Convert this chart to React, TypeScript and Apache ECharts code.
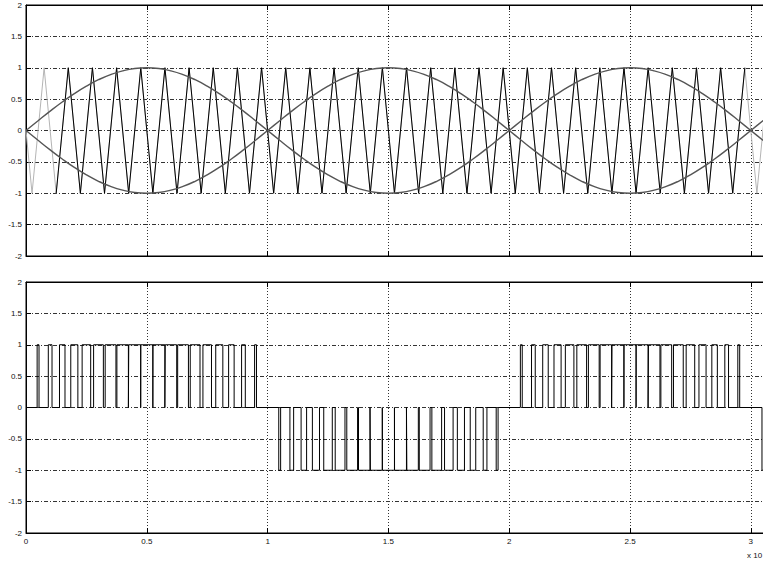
import React, { useEffect, useRef } from "react";
import * as echarts from "echarts";

// Triangular carrier: vertex times and levels
const carrierT = [
  0, 0.025, 0.075, 0.125, 0.175, 0.225, 0.275, 0.325, 0.375, 0.425, 0.475,
  0.525, 0.575, 0.625, 0.675, 0.725, 0.775, 0.825, 0.875, 0.925, 0.975,
  1.025, 1.075, 1.125, 1.175, 1.225, 1.275, 1.325, 1.375, 1.425, 1.475,
  1.525, 1.575, 1.625, 1.675, 1.725, 1.775, 1.825, 1.875, 1.925, 1.975,
  2.025, 2.075, 2.125, 2.175, 2.225, 2.275, 2.325, 2.375, 2.425, 2.475,
  2.525, 2.575, 2.625, 2.675, 2.725, 2.775, 2.825, 2.875, 2.925, 2.975,
  3.025, 3.075,
];
const carrierV = [
  0, -1, 1, -1, 1, -1, 1, -1, 1, -1, 1, -1, 1, -1, 1, -1, 1, -1, 1, -1, 1,
  -1, 1, -1, 1, -1, 1, -1, 1, -1, 1, -1, 1, -1, 1, -1, 1, -1, 1, -1, 1,
  -1, 1, -1, 1, -1, 1, -1, 1, -1, 1, -1, 1, -1, 1, -1, 1, -1, 1, -1, 1,
  -1, 1,
];
// span of the carrier drawn in black (the rest is light grey)
const carrierDarkFrom = 0.125;
const carrierDarkTo = 2.975;

// Reference sine waves (sampled every 0.05)
const sineT = [
  0, 0.05, 0.1, 0.15, 0.2, 0.25, 0.3, 0.35, 0.4, 0.45, 0.5, 0.55, 0.6, 0.65,
  0.7, 0.75, 0.8, 0.85, 0.9, 0.95, 1, 1.05, 1.1, 1.15, 1.2, 1.25, 1.3, 1.35,
  1.4, 1.45, 1.5, 1.55, 1.6, 1.65, 1.7, 1.75, 1.8, 1.85, 1.9, 1.95, 2, 2.05,
  2.1, 2.15, 2.2, 2.25, 2.3, 2.35, 2.4, 2.45, 2.5, 2.55, 2.6, 2.65, 2.7,
  2.75, 2.8, 2.85, 2.9, 2.95, 3, 3.05, 3.1,
];
const sineA = [
  0, 0.156, 0.309, 0.454, 0.588, 0.707, 0.809, 0.891, 0.951, 0.988, 1,
  0.988, 0.951, 0.891, 0.809, 0.707, 0.588, 0.454, 0.309, 0.156, 0,
  -0.156, -0.309, -0.454, -0.588, -0.707, -0.809, -0.891, -0.951, -0.988, -1,
  -0.988, -0.951, -0.891, -0.809, -0.707, -0.588, -0.454, -0.309, -0.156, 0,
  0.156, 0.309, 0.454, 0.588, 0.707, 0.809, 0.891, 0.951, 0.988, 1,
  0.988, 0.951, 0.891, 0.809, 0.707, 0.588, 0.454, 0.309, 0.156, 0,
  -0.156, -0.309,
];
const sineB = [
  0, -0.156, -0.309, -0.454, -0.588, -0.707, -0.809, -0.891, -0.951, -0.988, -1,
  -0.988, -0.951, -0.891, -0.809, -0.707, -0.588, -0.454, -0.309, -0.156, 0,
  0.156, 0.309, 0.454, 0.588, 0.707, 0.809, 0.891, 0.951, 0.988, 1,
  0.988, 0.951, 0.891, 0.809, 0.707, 0.588, 0.454, 0.309, 0.156, 0,
  -0.156, -0.309, -0.454, -0.588, -0.707, -0.809, -0.891, -0.951, -0.988, -1,
  -0.988, -0.951, -0.891, -0.809, -0.707, -0.588, -0.454, -0.309, -0.156, 0,
  0.156, 0.309,
];

// Unipolar PWM output: switch-on / switch-off instants and pulse level
const pulseOn = [
  0.0461, 0.0923, 0.1386, 0.1853, 0.2323, 0.2798, 0.3277, 0.3762, 0.4253, 0.475,
  0.5253, 0.5762, 0.6277, 0.6798, 0.7323, 0.7853, 0.8386, 0.8923, 0.9461,
  1.0461, 1.0923, 1.1386, 1.1853, 1.2323, 1.2798, 1.3277, 1.3762, 1.4253, 1.475,
  1.5253, 1.5762, 1.6277, 1.6798, 1.7323, 1.7853, 1.8386, 1.8923, 1.9461,
  2.0461, 2.0923, 2.1386, 2.1853, 2.2323, 2.2798, 2.3277, 2.3762, 2.4253, 2.475,
  2.5253, 2.5762, 2.6277, 2.6798, 2.7323, 2.7853, 2.8386, 2.8923, 2.9461,
  3.0461,
];
const pulseOff = [
  0.0539, 0.1077, 0.1614, 0.2147, 0.2677, 0.3202, 0.3723, 0.4238, 0.4747, 0.525,
  0.5747, 0.6238, 0.6723, 0.7202, 0.7677, 0.8147, 0.8614, 0.9077, 0.9539,
  1.0539, 1.1077, 1.1614, 1.2147, 1.2677, 1.3202, 1.3723, 1.4238, 1.4747, 1.525,
  1.5747, 1.6238, 1.6723, 1.7202, 1.7677, 1.8147, 1.8614, 1.9077, 1.9539,
  2.0539, 2.1077, 2.1614, 2.2147, 2.2677, 2.3202, 2.3723, 2.4238, 2.4747, 2.525,
  2.5747, 2.6238, 2.6723, 2.7202, 2.7677, 2.8147, 2.8614, 2.9077, 2.9539,
  3.0539,
];
const pulseLevel = [
  1, 1, 1, 1, 1, 1, 1, 1, 1, 1, 1, 1, 1, 1, 1, 1, 1, 1, 1,
  -1, -1, -1, -1, -1, -1, -1, -1, -1, -1, -1, -1, -1, -1, -1, -1, -1, -1, -1,
  1, 1, 1, 1, 1, 1, 1, 1, 1, 1, 1, 1, 1, 1, 1, 1, 1, 1, 1,
  -1,
];

const xTickLabels = ["0", "0.5", "1", "1.5", "2", "2.5", "3"];
const xMin = 0;
const xMax = 3.1;
const yMin = -2;
const yMax = 2;
const tickStep = 0.5;

const FONT = "'Liberation Sans', Arial, sans-serif";

// The canvas is wider than the window so the axes run on past its right edge.
const CANVAS_W = 800;
const CANVAS_H = 562;

function pwmPoints(): number[][] {
  const pts: number[][] = [[xMin, 0]];
  for (let i = 0; i < pulseOn.length; i++) {
    const L = pulseLevel[i];
    pts.push([pulseOn[i], 0], [pulseOn[i], L], [pulseOff[i], L], [pulseOff[i], 0]);
  }
  pts.push([xMax, 0]);
  return pts;
}

export default function App() {
  const ref = useRef<HTMLDivElement>(null);

  useEffect(() => {
    if (!ref.current) return;
    const chart = echarts.init(ref.current, undefined, { renderer: "svg" });

    const carrierAll = carrierT.map((t, i) => [t, carrierV[i]]);
    const carrierDark = carrierAll.filter(
      (p) => p[0] >= carrierDarkFrom - 1e-9 && p[0] <= carrierDarkTo + 1e-9
    );

    const hDash = [4, 2, 1, 2];
    const vDot = [1, 2];

    const baseX = (grid: number, pos: "top" | "bottom", labels: boolean, split: boolean) => ({
      type: "value",
      gridIndex: grid,
      position: pos,
      min: xMin,
      max: xMax,
      interval: tickStep,
      axisLine: { show: true, onZero: false, lineStyle: { color: "#000", width: 1 } },
      axisTick: { show: true, inside: true, length: 5, lineStyle: { color: "#000" } },
      axisLabel: {
        show: labels,
        showMaxLabel: false,
        color: "#111",
        fontSize: 8,
        fontFamily: FONT,
        margin: 4,
        formatter: (v: number) => {
          const idx = Math.round(v / tickStep);
          return xTickLabels[idx] ?? "";
        },
      },
      splitLine: {
        show: split,
        lineStyle: { color: "#333", width: 1, type: vDot },
      },
    });

    const baseY = (grid: number, pos: "left" | "right", labels: boolean, split: boolean) => ({
      type: "value",
      gridIndex: grid,
      position: pos,
      min: yMin,
      max: yMax,
      interval: tickStep,
      axisLine: { show: true, onZero: false, lineStyle: { color: "#000", width: 1 } },
      axisTick: { show: true, inside: true, length: 5, lineStyle: { color: "#000" } },
      axisLabel: {
        show: labels,
        color: "#111",
        fontSize: 8,
        fontFamily: FONT,
        margin: 4,
      },
      splitLine: {
        show: split,
        lineStyle: { color: "#333", width: 1, type: hDash },
      },
    });

    chart.setOption({
      animation: false,
      backgroundColor: "#fff",
      grid: [
        { left: 26, width: 749, top: 5, height: 251, show: true, borderColor: "#000", borderWidth: 1 },
        { left: 26, width: 749, top: 282, height: 251, show: true, borderColor: "#000", borderWidth: 1 },
      ],
      xAxis: [
        baseX(0, "bottom", false, true),
        baseX(0, "top", false, false),
        baseX(1, "bottom", true, true),
        baseX(1, "top", false, false),
      ],
      yAxis: [
        baseY(0, "left", true, true),
        baseY(0, "right", false, false),
        baseY(1, "left", true, true),
        baseY(1, "right", false, false),
      ],
      graphic: [
        {
          type: "text",
          left: 747,
          top: 551,
          style: { text: "x 10", fill: "#111", fontSize: 8, fontFamily: FONT },
        },
      ],
      series: [
        {
          name: "carrier",
          type: "line",
          xAxisIndex: 0,
          yAxisIndex: 0,
          data: carrierAll,
          symbol: "none",
          clip: true,
          silent: true,
          lineStyle: { color: "#b4b4b4", width: 1 },
        },
        {
          name: "carrier-dark",
          type: "line",
          xAxisIndex: 0,
          yAxisIndex: 0,
          data: carrierDark,
          symbol: "none",
          clip: true,
          silent: true,
          lineStyle: { color: "#000", width: 1 },
        },
        {
          name: "sine-a",
          type: "line",
          xAxisIndex: 0,
          yAxisIndex: 0,
          data: sineT.map((t, i) => [t, sineA[i]]),
          symbol: "none",
          smooth: true,
          clip: true,
          silent: true,
          lineStyle: { color: "#555", width: 1.4 },
        },
        {
          name: "sine-b",
          type: "line",
          xAxisIndex: 0,
          yAxisIndex: 0,
          data: sineT.map((t, i) => [t, sineB[i]]),
          symbol: "none",
          smooth: true,
          clip: true,
          silent: true,
          lineStyle: { color: "#555", width: 1.4 },
        },
        {
          name: "pwm",
          type: "line",
          xAxisIndex: 2,
          yAxisIndex: 2,
          data: pwmPoints(),
          symbol: "none",
          clip: true,
          silent: true,
          lineStyle: { color: "#000", width: 1 },
        },
      ],
    });

    return () => chart.dispose();
  }, []);

  return (
    <div
      ref={ref}
      style={{
        position: "fixed",
        left: 0,
        top: 0,
        width: CANVAS_W,
        height: CANVAS_H,
        background: "#fff",
      }}
    />
  );
}
